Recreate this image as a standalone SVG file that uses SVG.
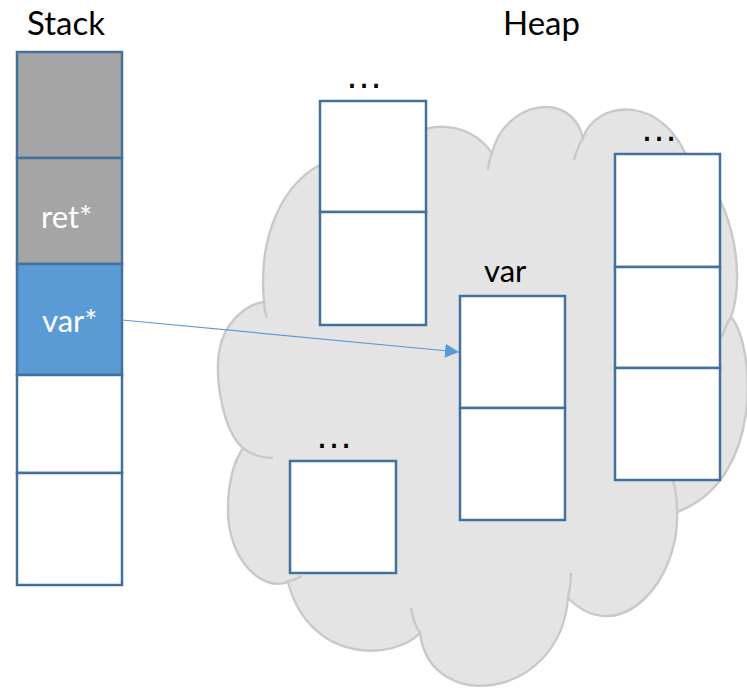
<svg xmlns="http://www.w3.org/2000/svg" width="747" height="688" viewBox="0 0 747 688">
  <defs>
    <style>
      .cell { stroke: #41719c; stroke-width: 2.5; fill: #ffffff; }
      .gray { fill: #a5a5a5; }
      .blue { fill: #5b9bd5; }
      .title { font-family: Lato, "Open Sans", sans-serif; font-size: 33px; fill: #000000; }
      .inner { font-family: Lato, "Open Sans", sans-serif; font-size: 31px; fill: #ffffff; }
      .label { font-family: Lato, "Open Sans", sans-serif; font-size: 31px; fill: #000000; }
      .dots { font-family: "Liberation Sans", sans-serif; font-size: 38px; fill: #000000; text-anchor: middle; }
      .cloud { fill: #e4e4e4; stroke: #c9c9c9; stroke-width: 2.4; }
      .cloud-line { fill: none; stroke: #c9c9c9; stroke-width: 2.4; }
      .arrow { stroke: #5b9bd5; stroke-width: 1.2; fill: none; }
    </style>
    <marker id="arrowhead" viewBox="0 0 10 10" refX="10" refY="5" markerWidth="14" markerHeight="14" markerUnits="userSpaceOnUse" orient="auto">
      <path d="M0,0 L10,5 L0,10 Z" fill="#5b9bd5"/>
    </marker>
  </defs>

  <!-- heap cloud -->
  <g id="heap-cloud">
    <path class="cloud" d="M264,302
      C258,240 280,180 330,160
      C360,148 390,140 405,142
      C420,122 468,118 492,153
      C505,100 572,90 583,138
      C595,100 665,92 690,165
      C728,185 748,270 731,317
      C755,345 765,480 677,512
      C680,580 620,650 568,598
      C560,700 430,715 420,633
      C395,660 310,665 288,582
      C262,592 228,560 228,510
      C228,480 235,460 243,448
      C222,430 212,370 222,340
      C230,318 248,304 264,302 Z"/>
    <path class="cloud-line" d="M264,300 Q264,310 267,318"/>
    <path class="cloud-line" d="M243,448 Q255,458 273,458"/>
    <path class="cloud-line" d="M286,582 Q295,580 302,576"/>
    <path class="cloud-line" d="M420,633 Q413,622 411,608"/>
    <path class="cloud-line" d="M568,598 Q571,585 571,573"/>
    <path class="cloud-line" d="M677,512 Q677,495 673,480"/>
    <path class="cloud-line" d="M731,317 Q725,326 722,337"/>
    <path class="cloud-line" d="M583,138 Q577,148 574,160"/>
    <path class="cloud-line" d="M492,153 Q489,160 488,170"/>
  </g>

  <!-- titles -->
  <text class="title" x="27" y="35">Stack</text>
  <text class="title" x="503" y="35">Heap</text>

  <!-- stack frames -->
  <g id="stack">
    <rect class="cell gray" x="17" y="52" width="105" height="106"/>
    <rect class="cell gray" x="17" y="158" width="105" height="106"/>
    <rect class="cell blue" x="17" y="264" width="105" height="111"/>
    <rect class="cell" x="17" y="375" width="105" height="98"/>
    <rect class="cell" x="17" y="473" width="105" height="112"/>
    <text class="inner" x="41" y="228">ret*</text>
    <text class="inner" x="42" y="332">var*</text>
  </g>

  <!-- heap blocks -->
  <g id="block-a">
    <rect class="cell" x="320" y="101" width="106" height="111"/>
    <rect class="cell" x="320" y="212" width="106" height="113"/>
    <text class="dots" x="364" y="88">…</text>
  </g>

  <g id="block-b">
    <rect class="cell" x="615" y="154" width="105" height="113"/>
    <rect class="cell" x="615" y="267" width="105" height="101"/>
    <rect class="cell" x="615" y="368" width="105" height="112"/>
    <text class="dots" x="659" y="141">…</text>
  </g>

  <g id="block-var">
    <rect class="cell" x="460" y="296" width="105" height="112"/>
    <rect class="cell" x="460" y="408" width="105" height="112"/>
    <text class="label" x="484" y="282">var</text>
  </g>

  <g id="block-d">
    <rect class="cell" x="290" y="461" width="106" height="112"/>
    <text class="dots" x="334" y="448">…</text>
  </g>

  <!-- pointer from stack to heap -->
  <g id="connectors">
    <line class="arrow" x1="122" y1="320" x2="459" y2="352" marker-end="url(#arrowhead)"/>
  </g>
</svg>
